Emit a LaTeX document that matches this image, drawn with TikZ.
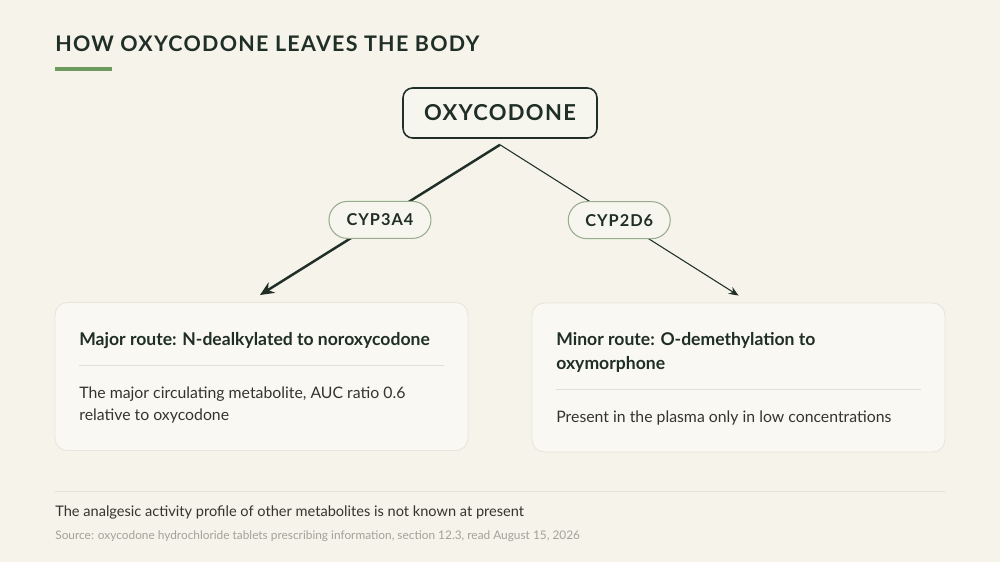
\documentclass[tikz,border=0pt]{standalone}
\usepackage{fontspec}
\setmainfont{Lato}
\newfontfamily\spacedfont[LetterSpace=6]{Lato}
\usetikzlibrary{positioning,arrows.meta}

\definecolor{paper}{HTML}{F5F3EA}
\definecolor{ink}{HTML}{1F2E26}
\definecolor{leaf}{HTML}{6F9A5E}
\definecolor{pillline}{HTML}{98AC8E}
\definecolor{pillfill}{HTML}{F7F6EE}
\definecolor{cardfill}{HTML}{F9F8F2}
\definecolor{cardline}{HTML}{E8E6DB}
\definecolor{rulegray}{HTML}{E3E1D6}
\definecolor{bodyink}{HTML}{34352F}
\definecolor{sourcegray}{HTML}{A3A19A}

\begin{document}
\begin{tikzpicture}[x=0.02cm,y=-0.02cm,
    drug/.style={draw=ink, line width=0.9pt, fill=pillfill, rounded corners=5.5pt,
      minimum width=3.88cm, minimum height=1cm, text=ink, font=\spacedfont\bfseries\fontsize{12.5}{14}\selectfont},
    enzyme/.style={draw=pillline, line width=0.6pt, fill=pillfill, rounded corners=0.37cm,
      minimum width=2.04cm, minimum height=0.74cm, text=ink, font=\spacedfont\bfseries\fontsize{9.3}{11}\selectfont},
    card/.style={draw=cardline, line width=0.5pt, fill=cardfill, rounded corners=7pt,
      minimum width=8.26cm, minimum height=2.96cm},
    cardhead/.style={anchor=base west, inner sep=0pt, text=ink, align=left,
      font=\bfseries\fontsize{10}{13.2}\selectfont},
    cardbody/.style={anchor=base west, inner sep=0pt, text=bodyink, align=left,
      font=\fontsize{9}{12.5}\selectfont},
    major/.style={draw=ink, line width=1.4pt, -{Stealth[length=8pt,width=7pt]}},
    minor/.style={draw=ink, line width=0.6pt, -{Stealth[length=5.5pt,width=4.5pt]}}]

  % page
  \fill[paper] (0,0) rectangle (1000,562);
  \useasboundingbox (0,0) rectangle (1000,562);

  % title
  \node[anchor=base west, inner sep=0pt, text=ink,
    font=\spacedfont\bfseries\fontsize{12.2}{14}\selectfont] (title) at (55,51)
    {HOW OXYCODONE LEAVES THE BODY};
  \draw[leaf, line width=1.8pt] (55,69) -- (112,69);

  % parent drug
  \node[drug] (oxy) at (500,113) {OXYCODONE};
  \coordinate (fork) at ([yshift=-3.4pt]oxy.south);

  % the two routes
  \node[card] (majorcard) at (261.5,376.5) {};
  \node[card, minimum height=2.98cm] (minorcard) at (738.5,377.5) {};
  \coordinate (majorin) at ([xshift=-0.9pt, yshift=4pt]majorcard.north);
  \coordinate (minorin) at ([yshift=4pt]minorcard.north);

  \draw[major] (fork) -- node[enzyme] (cyp3a4) {CYP3A4} (majorin);
  \draw[minor] (fork) -- node[enzyme] (cyp2d6) {CYP2D6} (minorin);

  % major route card
  \node[cardhead] (majorhead) at (79,345) {Major route: N-dealkylated to noroxycodone};
  \draw[rulegray, line width=0.5pt] (79,365) -- (444,365);
  \node[cardbody] (majorbody) at (79,420)
    {The major circulating metabolite, AUC ratio 0.6\\relative to oxycodone};

  % minor route card
  \node[cardhead] (minorhead) at (556,369) {Minor route: O-demethylation to\\oxymorphone};
  \draw[rulegray, line width=0.5pt] (556,389) -- (921,389);
  \node[cardbody] (minorbody) at (556,422) {Present in the plasma only in low concentrations};

  % footer
  \draw[rulegray, line width=0.5pt] (55,491) -- (945,491);
  \node[anchor=base west, inner sep=0pt, text=bodyink, font=\fontsize{8.3}{10}\selectfont]
    (note) at (55,516) {The analgesic activity profile of other metabolites is not known at present};
  \node[anchor=base west, inner sep=0pt, text=sourcegray, font=\fontsize{6.75}{8}\selectfont]
    (source) at (55,539) {Source: oxycodone hydrochloride tablets prescribing information, section 12.3, read August 15, 2026};

\end{tikzpicture}
\end{document}
